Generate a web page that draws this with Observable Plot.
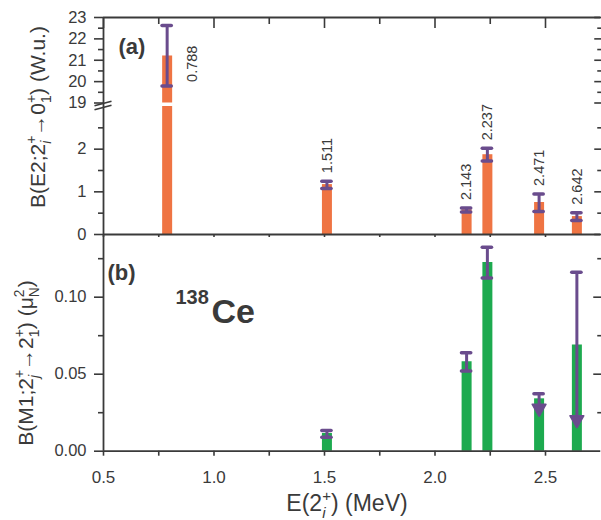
<!DOCTYPE html>
<html><head><meta charset="utf-8">
<script src="https://cdn.jsdelivr.net/npm/d3@7"></script>
<script src="https://cdn.jsdelivr.net/npm/@observablehq/plot@0.6"></script>
<style>
html,body{margin:0;padding:0;background:#fff;}
#chart{position:relative;width:601px;height:520px;overflow:hidden;}
#chart svg{position:absolute;left:0;top:0;}
</style></head><body><div id="chart"></div>
<script>
// ---- data ----
const energies = [0.788, 1.511, 2.143, 2.237, 2.471, 2.642];
const energyLabels = ["0.788", "1.511", "2.143", "2.237", "2.471", "2.642"];
const e2Value = [21.2, 1.17, 0.58, 1.87, 0.75, 0.42];
const e2Low = [19.8, 1.08, 0.53, 1.72, 0.54, 0.33];
const e2High = [22.62, 1.25, 0.62, 2.02, 0.95, 0.51];

const m1Energies = [1.511, 2.143, 2.237, 2.471, 2.642];
const m1Value = [0.0115, 0.058, 0.1225, 0.034, 0.069];
const m1Low = [0.009, 0.052, 0.1124, 0.023, 0.0156];
const m1High = [0.0134, 0.064, 0.1325, 0.0373, 0.1162];
const m1UpperLimit = [false, false, false, true, true];

const xDomain = [0.5, 2.75];
const xMajor = [0.5, 1.0, 1.5, 2.0, 2.5];
const xMinor = [0.75, 1.25, 1.75, 2.25];
const e2Domain = [0, 3, 19, 23];          // broken axis: 0–3 and 19–23
const e2Major = [0, 1, 2, 19, 20, 21, 22, 23];
const e2Minor = [0.5, 1.5, 2.5, 19.5, 20.5, 21.5, 22.5];
const m1Domain = [0, 0.1407];
const m1Major = [0, 0.05, 0.10];
const m1Minor = [0.025, 0.075, 0.125];

// ---- styles ----
const orange = "#EF7443", green = "#1DAA4F", purple = "#6A4C8D", ink = "#3a3a3a";
const font = '"Liberation Sans", Arial, Helvetica, sans-serif';
const capHalf = 0.021;
const barWidth = 10;

const e2 = energies.map((e, i) => ({e, label: energyLabels[i], v: e2Value[i], lo: e2Low[i], hi: e2High[i]}));
const m1 = m1Energies.map((e, i) => ({e, v: m1Value[i], lo: m1Low[i], hi: m1High[i], limit: m1UpperLimit[i]}));
const breakLow = e2Domain[1], breakHigh = e2Domain[2];
const breakMid = (breakLow + breakHigh) / 2;
const none = () => "";

const breakSymbol = {draw(ctx) {
  ctx.moveTo(-9, 1); ctx.lineTo(8, -3.5);
  ctx.moveTo(-9, 5); ctx.lineTo(8, 0.5);
}};

const common = {
  width: 601, height: 520, marginLeft: 103, marginRight: 0.75,
  x: {domain: xDomain, label: null},
  style: {background: "transparent", overflow: "visible", fontFamily: font, fontSize: "16px", color: ink}
};

const errBars = (data, strokeW) => [
  Plot.ruleX(data, {x: "e", y1: "lo", y2: "hi", stroke: purple, strokeWidth: strokeW}),
  Plot.ruleY(data, {y: "hi", x1: d => d.e - capHalf, x2: d => d.e + capHalf, stroke: purple, strokeWidth: 3.5, strokeLinecap: "round"})
];

const plotA = Plot.plot({
  ...common,
  marginTop: 17, marginBottom: 286,
  y: {type: "linear", domain: e2Domain, range: [234, 106, 102.5, 17], label: null},
  marks: [
    Plot.ruleX(e2, {x: "e", y1: 0, y2: d => Math.min(d.v, breakLow), stroke: orange, strokeWidth: barWidth}),
    Plot.ruleX(e2.filter(d => d.v > breakHigh), {x: "e", y1: breakHigh, y2: "v", stroke: orange, strokeWidth: barWidth}),
    ...errBars(e2, 3),
    Plot.ruleY(e2, {y: "lo", x1: d => d.e - capHalf, x2: d => d.e + capHalf, stroke: purple, strokeWidth: 3.5, strokeLinecap: "round"}),
    Plot.text(e2.filter(d => d.e > 1), {x: "e", y: "hi", text: "label", rotate: -90, textAnchor: "start", dy: -8, fontSize: 14.5, fill: ink}),
    Plot.text(e2.filter(d => d.e < 1), {x: "e", y: "lo", text: "label", rotate: -90, textAnchor: "start", dx: 25, dy: -4, fontSize: 14.5, fill: ink}),
    // frame
    Plot.ruleX([xDomain[0]], {stroke: ink, strokeWidth: 1.8}),
    Plot.ruleY([e2Domain[0], e2Domain[3]], {stroke: ink, strokeWidth: 1.8}),
    // axes
    Plot.axisY(e2Major, {anchor: "left", tickSize: 9, tickPadding: 8, fontSize: 16.5, label: null, strokeWidth: 1.6}),
    Plot.axisY(e2Minor, {anchor: "left", tickSize: 5, tickFormat: none, label: null, strokeWidth: 1.6}),
    Plot.axisY(e2Major, {anchor: "right", tickSize: -7, tickFormat: none, label: null, strokeWidth: 1.6}),
    Plot.axisY(e2Minor, {anchor: "right", tickSize: -4, tickFormat: none, label: null, strokeWidth: 1.6}),
    Plot.axisX(xMajor, {anchor: "top", tickSize: -10, tickFormat: none, label: null, strokeWidth: 1.6}),
    Plot.axisX(xMinor, {anchor: "top", tickSize: -6, tickFormat: none, label: null, strokeWidth: 1.6}),
    Plot.axisX(xMajor.concat(xMinor), {anchor: "bottom", tickSize: 3, tickFormat: none, label: null, strokeWidth: 1.6}),
    Plot.dot([breakMid], {x: () => xDomain[0], y: d => d, symbol: breakSymbol, r: 5, fill: "none", stroke: ink, strokeWidth: 1.8}),
    Plot.text(["(a)"], {frameAnchor: "top-left", text: d => d, dx: 15, dy: 36, textAnchor: "start", lineAnchor: "bottom", fontWeight: "bold", fontSize: 22, fill: ink})
  ]
});

const plotB = Plot.plot({
  ...common,
  marginTop: 234, marginBottom: 69.3,
  y: {domain: m1Domain, label: null},
  marks: [
    Plot.ruleX(m1, {x: "e", y1: 0, y2: "v", stroke: green, strokeWidth: barWidth}),
    ...errBars(m1, 3),
    Plot.ruleY(m1.filter(d => !d.limit), {y: "lo", x1: d => d.e - capHalf, x2: d => d.e + capHalf, stroke: purple, strokeWidth: 3.5, strokeLinecap: "round"}),
    Plot.dot(m1.filter(d => d.limit), {x: "e", y: "lo", symbol: "triangle", r: 5, rotate: 180, dy: -7.5, fill: purple, stroke: purple, strokeWidth: 1.8, strokeLinejoin: "round"}),
    // frame
    Plot.ruleX([xDomain[0]], {stroke: ink, strokeWidth: 1.8}),
    Plot.ruleY([m1Domain[0]], {stroke: ink, strokeWidth: 1.8}),
    // axes
    Plot.axisY(m1Major, {anchor: "left", tickSize: 9, tickPadding: 8, fontSize: 16.5, tickFormat: d3.format(".2f"), label: null, strokeWidth: 1.6}),
    Plot.axisY(m1Minor, {anchor: "left", tickSize: 5, tickFormat: none, label: null, strokeWidth: 1.6}),
    Plot.axisY(m1Major.slice(1), {anchor: "right", tickSize: -8, tickFormat: none, label: null, strokeWidth: 1.6}),
    Plot.axisY(m1Minor, {anchor: "right", tickSize: -4, tickFormat: none, label: null, strokeWidth: 1.6}),
    Plot.axisX(xMajor, {anchor: "bottom", tickSize: 5, tickPadding: 15, fontSize: 17, tickFormat: d3.format(".1f"), label: null, strokeWidth: 1.6}),
    Plot.axisX(xMinor, {anchor: "bottom", tickSize: 5, tickFormat: none, label: null, strokeWidth: 1.6}),
    Plot.text(["(b)"], {frameAnchor: "top-left", text: d => d, dx: 4, dy: 45, textAnchor: "start", lineAnchor: "bottom", fontWeight: "bold", fontSize: 22, fill: ink}),
    Plot.text(["138"], {frameAnchor: "top-left", text: d => d, dx: 72, dy: 69, textAnchor: "start", lineAnchor: "bottom", fontWeight: "bold", fontSize: 20, fill: ink}),
    Plot.text(["Ce"], {frameAnchor: "top-left", text: d => d, dx: 108, dy: 88, textAnchor: "start", lineAnchor: "bottom", fontWeight: "bold", fontSize: 34, fill: ink})
  ]
});

const chart = document.getElementById("chart");
chart.appendChild(plotA);
chart.appendChild(plotB);

// ---- axis titles with stacked sub/superscripts ----
function measure(svg, s, fs, italic) {
  const t = d3.select(svg).append("text").style("font-family", font).style("font-size", fs + "px")
    .style("font-style", italic ? "italic" : "normal").text(s);
  const w = t.node().getComputedTextLength();
  t.remove();
  return w;
}
function richText(svg, {x, y, rotate = 0, size, parts}) {
  const text = d3.select(svg).append("text")
    .attr("transform", `translate(${x},${y}) rotate(${rotate})`)
    .attr("text-anchor", "middle").attr("fill", ink)
    .style("font-family", font).style("font-size", size + "px");
  const small = size * 0.66;
  let cur = 0, pend = 0;
  for (const p of parts) {
    if (typeof p === "string") {
      text.append("tspan").attr("dx", pend).attr("dy", -cur).text(p);
      cur = 0; pend = 0;
    } else {
      const supOff = -0.42 * size, subOff = 0.3 * size;
      const wSup = measure(svg, p.sup, small, false);
      const wSub = measure(svg, p.sub, small, p.subItalic);
      text.append("tspan").attr("dx", pend).attr("dy", supOff - cur).style("font-size", small + "px").text(p.sup);
      cur = supOff;
      text.append("tspan").attr("dx", -wSup).attr("dy", subOff - cur).style("font-size", small + "px")
        .style("font-style", p.subItalic ? "italic" : "normal").text(p.sub);
      cur = subOff;
      pend = Math.max(wSup, wSub) - wSub;
    }
  }
}
richText(plotB, {x: 45, y: 117, rotate: -90, size: 21,
  parts: ["B(E2;2", {sup: "+", sub: "i", subItalic: true}, "→0", {sup: "+", sub: "1"}, ") (W.u.)"]});
richText(plotB, {x: 33, y: 363, rotate: -90, size: 21,
  parts: ["B(M1;2", {sup: "+", sub: "j", subItalic: true}, "→2", {sup: "+", sub: "1"}, ") (μ", {sup: "2", sub: "N"}, ")"]});
richText(plotB, {x: 347, y: 511, size: 23,
  parts: ["E(2", {sup: "+", sub: "i", subItalic: true}, ") (MeV)"]});
</script></body></html>
